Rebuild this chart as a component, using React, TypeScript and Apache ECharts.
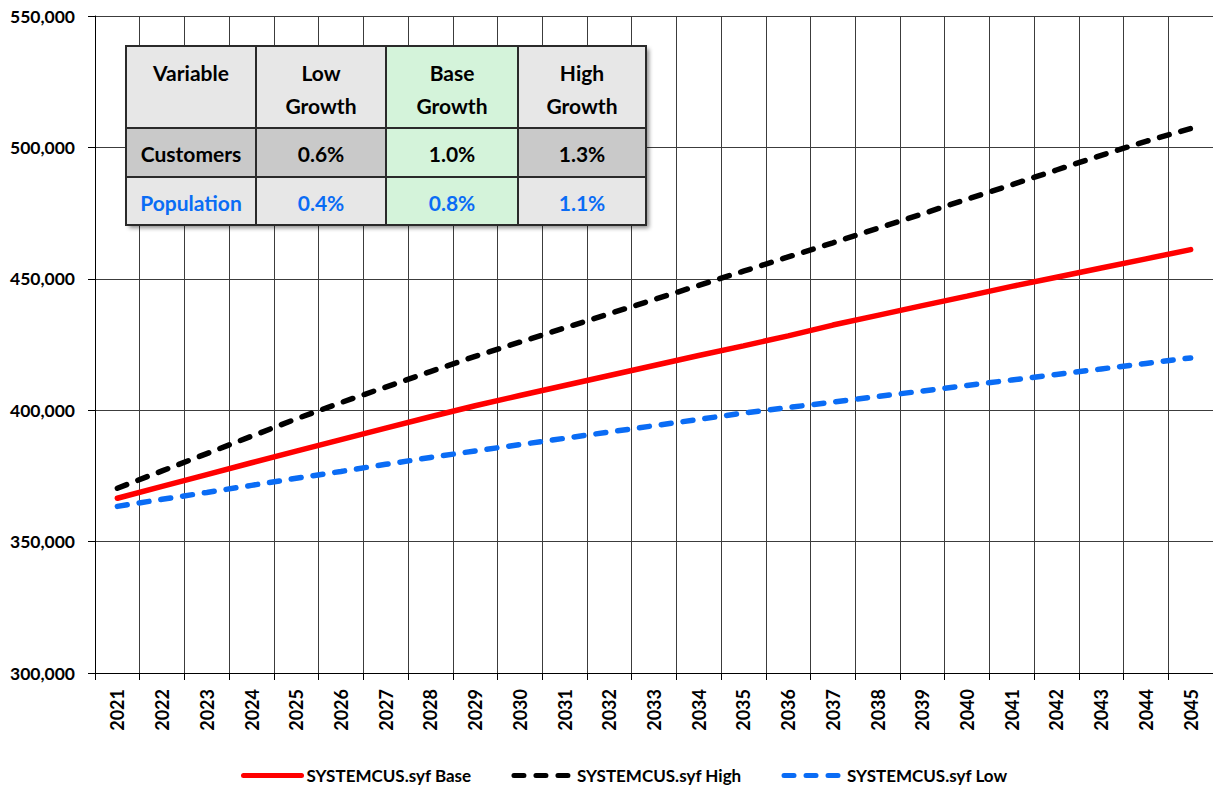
import React, { useEffect, useRef } from "react";
import * as echarts from "echarts";

const years = [
  "2021", "2022", "2023", "2024", "2025", "2026", "2027", "2028", "2029", "2030",
  "2031", "2032", "2033", "2034", "2035", "2036", "2037", "2038", "2039", "2040",
  "2041", "2042", "2043", "2044", "2045",
];

const baseValues = [
  366500, 371000, 375500, 380000, 384400, 388800, 393200, 397500, 401700, 405600,
  409400, 413200, 417000, 420800, 424500, 428300, 432400, 436100, 439800, 443400,
  447100, 450600, 454100, 457600, 461100,
];

const highValues = [
  370300, 376900, 383500, 390100, 396700, 402900, 408800, 414700, 420500, 425900,
  431300, 436700, 442100, 447500, 452900, 458300, 463700, 469200, 474700, 480300,
  485800, 491400, 497000, 502300, 507200,
];

const lowValues = [
  363400, 366100, 368700, 371400, 374100, 376700, 379400, 382000, 384500, 386900,
  389300, 391700, 394100, 396500, 398900, 401000, 403100, 405200, 407300, 409400,
  411500, 413600, 415700, 417800, 419900,
];

const seriesNames = ["SYSTEMCUS.syf Base", "SYSTEMCUS.syf High", "SYSTEMCUS.syf Low"];

const yMin = 300000;
const yMax = 550000;
const yStep = 50000;

const tableHeader = ["Variable", "Low\nGrowth", "Base\nGrowth", "High\nGrowth"];
const customersRow = ["Customers", "0.6%", "1.0%", "1.3%"];
const populationRow = ["Population", "0.4%", "0.8%", "1.1%"];

const FONT = "Lato, 'Open Sans', sans-serif";

function buildTable() {
  const colX = [126, 256, 386, 518, 646];
  const rowY = [46, 128, 177, 225];
  const gray = "#e7e7e7";
  const dark = "#c9c9c9";
  const green = "#d4f3da";
  const fills = [
    [gray, gray, green, gray],
    [dark, dark, green, dark],
    [gray, gray, green, gray],
  ];
  const rows = [tableHeader, customersRow, populationRow];
  const colors = ["#000", "#000", "#0a6cf5"];
  const els: any[] = [];
  els.push({
    type: "rect",
    z: 100,
    shape: { x: colX[0], y: rowY[0], width: colX[4] - colX[0], height: rowY[3] - rowY[0] },
    style: { fill: "#fff", shadowBlur: 4, shadowOffsetX: 3, shadowOffsetY: 3, shadowColor: "rgba(0,0,0,0.45)" },
  });
  for (let r = 0; r < 3; r++) {
    for (let c = 0; c < 4; c++) {
      els.push({
        type: "rect",
        z: 101,
        shape: { x: colX[c], y: rowY[r], width: colX[c + 1] - colX[c], height: rowY[r + 1] - rowY[r] },
        style: { fill: fills[r][c], stroke: "#2a2a2a", lineWidth: 2 },
      });
      const cx = (colX[c] + colX[c + 1]) / 2;
      if (r === 0) {
        els.push({
          type: "text",
          z: 102,
          x: cx,
          y: 55.5,
          style: {
            text: rows[r][c],
            font: `bold 21px ${FONT}`,
            fill: colors[r],
            align: "center",
            verticalAlign: "top",
            textAlign: "center",
            textVerticalAlign: "top",
            lineHeight: 33,
          },
        });
      } else {
        const cy = (rowY[r] + rowY[r + 1]) / 2 + 1;
        els.push({
          type: "text",
          z: 102,
          x: cx,
          y: cy,
          style: {
            text: rows[r][c],
            font: `bold 21px ${FONT}`,
            fill: colors[r],
            align: "center",
            verticalAlign: "middle",
            textAlign: "center",
            textVerticalAlign: "middle",
          },
        });
      }
    }
  }
  return els;
}

export default function App() {
  const ref = useRef<HTMLDivElement>(null);
  useEffect(() => {
    if (!ref.current) return;
    const chart = echarts.init(ref.current, null, { renderer: "svg" });
    const gridColor = "#3c3c3c";
    chart.setOption({
      animation: false,
      backgroundColor: "#fff",
      textStyle: { fontFamily: FONT },
      grid: { left: 95, top: 16, width: 1125, height: 657, containLabel: false },
      legend: {
        left: 236,
        top: 762,
        itemWidth: 58,
        itemHeight: 16,
        itemGap: 40,
        data: seriesNames,
        itemStyle: { opacity: 0 },
        lineStyle: { width: 5, cap: "round" },
        textStyle: { fontFamily: FONT, fontSize: 17, fontWeight: "bold", color: "#000" },
      },
      xAxis: {
        type: "category",
        data: years,
        boundaryGap: true,
        axisLine: { show: true, lineStyle: { color: "#000", width: 1 } },
        axisTick: { show: true, length: 7, lineStyle: { color: "#000" } },
        axisLabel: {
          rotate: 90,
          interval: 0,
          margin: 16,
          fontFamily: FONT,
          fontSize: 18,
          fontWeight: "bold",
          color: "#000",
        },
        splitLine: { show: true, lineStyle: { color: gridColor, width: 1 } },
      },
      yAxis: {
        type: "value",
        min: yMin,
        max: yMax,
        interval: yStep,
        axisLine: { show: true, lineStyle: { color: "#000", width: 1 } },
        axisTick: { show: true, length: 7, lineStyle: { color: "#000" } },
        axisLabel: {
          margin: 20,
          fontFamily: FONT,
          fontSize: 17.5,
          fontWeight: "bold",
          color: "#000",
          formatter: (v: number) => v.toLocaleString("en-US"),
        },
        splitLine: { show: true, lineStyle: { color: gridColor, width: 1 } },
      },
      series: [
        {
          name: seriesNames[0],
          type: "line",
          data: baseValues,
          symbol: "none",
          itemStyle: { color: "#ff0000" },
          lineStyle: { color: "#ff0000", width: 5.5, cap: "round" },
          z: 3,
        },
        {
          name: seriesNames[1],
          type: "line",
          data: highValues,
          symbol: "none",
          itemStyle: { color: "#000000" },
          lineStyle: { color: "#000000", width: 5.5, type: [10, 12], cap: "round" },
          z: 2,
        },
        {
          name: seriesNames[2],
          type: "line",
          data: lowValues,
          symbol: "none",
          itemStyle: { color: "#0a6cf5" },
          lineStyle: { color: "#0a6cf5", width: 5.5, type: [10, 12], cap: "round" },
          z: 2,
        },
      ],
      graphic: { elements: buildTable() },
    });
    return () => chart.dispose();
  }, []);
  return (
    <div
      ref={ref}
      style={{ position: "absolute", left: 0, top: 0, width: 1213, height: 786 }}
    />
  );
}
